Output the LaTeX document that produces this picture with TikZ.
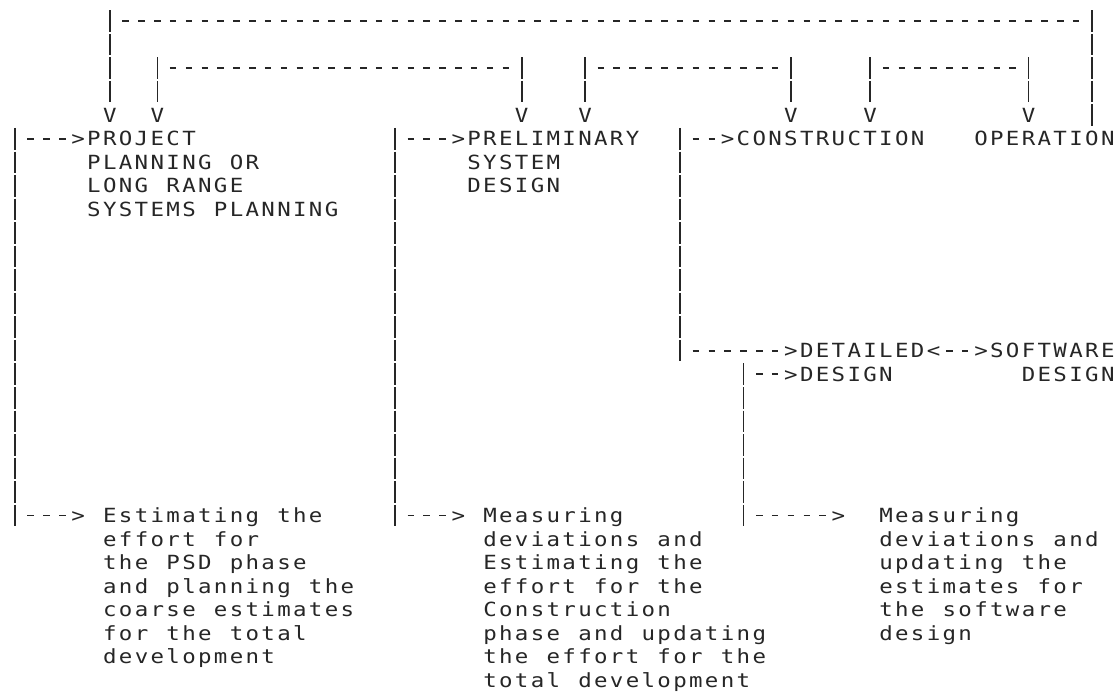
\documentclass[tikz,border=0pt]{standalone}
\usepackage{fontspec}
\newfontfamily\plotfont[FakeStretch=1.15]{DejaVu Sans Mono}
\definecolor{ink}{RGB}{38,38,38}
\ExplSyntaxOn
\NewDocumentCommand\gridtext{m}{\str_map_inline:nn{#1}{\makebox[15.84pt][c]{##1}}}
\ExplSyntaxOff
\newcommand\bl{0.30}
\tikzset{
  txt/.style={font=\plotfont\fontsize{19.5}{23.55}\selectfont, text=ink, inner sep=0pt, outer sep=0pt, anchor=base west},
  tip/.style={txt, anchor=base},
  bar/.style={draw=ink, line width=1.7pt, dash pattern=on 21.55pt off 2pt},
  dashes/.style={draw=ink, line width=1.7pt, dash pattern=on 6.5pt off 9.34pt},
}
% #1 name, #2 column, #3 row, #4 text
\newcommand\gline[4]{\node[txt] (#1) at ({#2-0.5},{#3+\bl}) {\gridtext{#4}};}
% #1 name, #2 column, #3 row, #4 glyph
\newcommand\gtip[4]{\node[tip] (#1) at (#2,{#3+\bl}) {#4};}
% vertical bar: #1 column, #2 first row, #3 last row
\newcommand\vbar[3]{\draw[bar] (#1,{#2-0.4575}) -- (#1,{#3+0.4575});}
% horizontal dashes: #1 row, #2 first column, #3 last column
\newcommand\hdash[3]{\draw[dashes] ({#2-0.205},#1) -- ({#3+0.205},#1);}
\begin{document}
\begin{tikzpicture}[x=15.84pt, y=-23.55pt]
\fill[white] (-0.934,-0.892) rectangle (69.646,28.535);
\useasboundingbox (-0.934,-0.892) rectangle (69.646,28.535);

% ---- phase titles
\gline{proj}{5}{5}{PROJECT}
\gline{proj2}{5}{6}{PLANNING OR}
\gline{proj3}{5}{7}{LONG RANGE}
\gline{proj4}{5}{8}{SYSTEMS PLANNING}
\gline{psd}{29}{5}{PRELIMINARY}
\gline{psd2}{29}{6}{SYSTEM}
\gline{psd3}{29}{7}{DESIGN}
\gline{cons}{46}{5}{CONSTRUCTION}
\gline{oper}{61}{5}{OPERATION}
\gline{det}{50}{14}{DETAILED}
\gline{det2}{50}{15}{DESIGN}
\gline{soft}{62}{14}{SOFTWARE}
\gline{soft2}{64}{15}{DESIGN}

% ---- bottom notes
\gline{la}{6}{21}{Estimating the}
\gline{lb}{6}{22}{effort for}
\gline{lc}{6}{23}{the PSD phase}
\gline{ld}{6}{24}{and planning the}
\gline{le}{6}{25}{coarse estimates}
\gline{lf}{6}{26}{for the total}
\gline{lg}{6}{27}{development}

\gline{ma}{30}{21}{Measuring}
\gline{mb}{30}{22}{deviations and}
\gline{mc}{30}{23}{Estimating the}
\gline{md}{30}{24}{effort for the}
\gline{me}{30}{25}{Construction}
\gline{mf}{30}{26}{phase and updating}
\gline{mg}{30}{27}{the effort for the}
\gline{mh}{30}{28}{total development}

\gline{ra}{55}{21}{Measuring}
\gline{rb}{55}{22}{deviations and}
\gline{rc}{55}{23}{updating the}
\gline{rd}{55}{24}{estimates for}
\gline{re}{55}{25}{the software}
\gline{rf}{55}{26}{design}

% ---- arrow heads
\gtip{v1}{6}{4}{V}
\gtip{v2}{9}{4}{V}
\gtip{v3}{32}{4}{V}
\gtip{v4}{36}{4}{V}
\gtip{v5}{49}{4}{V}
\gtip{v6}{54}{4}{V}
\gtip{v7}{64}{4}{V}
\gtip{g1}{4}{5}{>}
\gtip{g2}{28}{5}{>}
\gtip{g3}{45}{5}{>}
\gtip{g4}{49}{14}{>}
\gtip{g5}{58}{14}{<}
\gtip{g6}{61}{14}{>}
\gtip{g7}{49}{15}{>}
\gtip{g8}{4}{21}{>}
\gtip{g9}{28}{21}{>}
\gtip{g10}{52}{21}{>}

% ---- feedback loops at the top
\vbar{68}{0}{4}
\hdash{0}{7}{67}
\vbar{6}{0}{3}

\vbar{9}{2}{3}
\hdash{2}{10}{31}
\vbar{32}{2}{3}

\vbar{36}{2}{3}
\hdash{2}{37}{48}
\vbar{49}{2}{3}

\vbar{54}{2}{3}
\hdash{2}{55}{63}
\vbar{64}{2}{3}

% ---- left branch
\vbar{0}{5}{21}
\hdash{5}{1}{3}
\hdash{21}{1}{3}

% ---- preliminary branch
\vbar{24}{5}{21}
\hdash{5}{25}{27}
\hdash{21}{25}{27}

% ---- construction branch
\vbar{42}{5}{14}
\hdash{5}{43}{44}
\hdash{14}{43}{48}
\hdash{14}{59}{60}

% ---- detailed design branch
\vbar{46}{15}{21}
\hdash{15}{47}{48}
\hdash{21}{47}{51}
\end{tikzpicture}
\end{document}
